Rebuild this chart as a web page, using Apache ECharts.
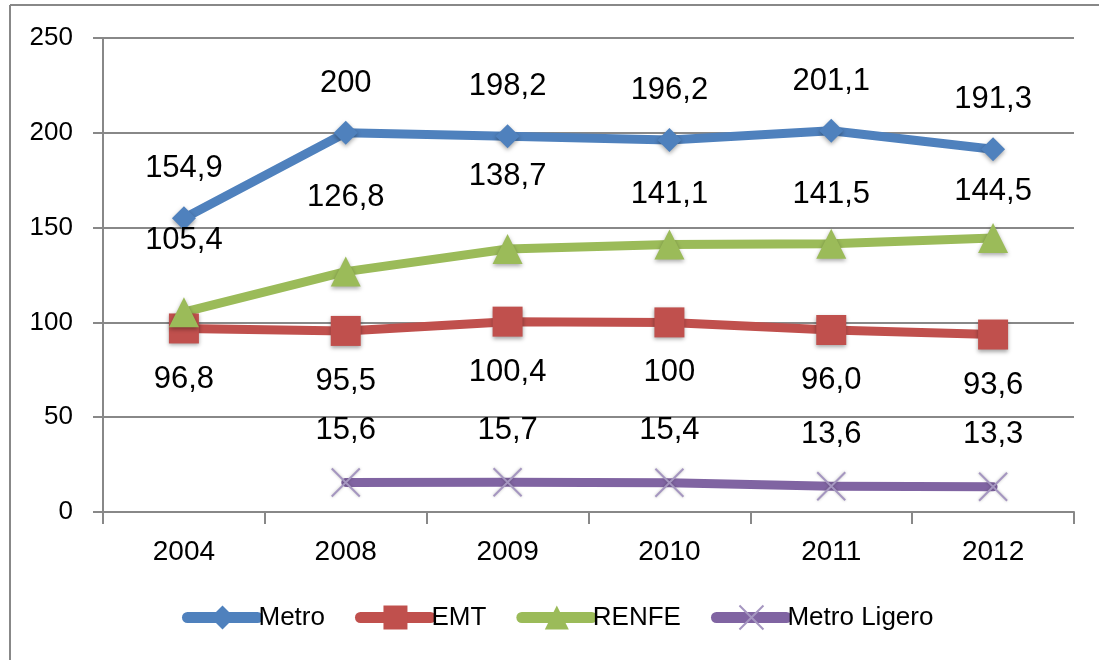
<!DOCTYPE html>
<html>
<head>
<meta charset="utf-8">
<script src="https://cdn.jsdelivr.net/npm/echarts@6/dist/echarts.min.js"></script>
<style>
  html, body { margin: 0; padding: 0; background: #fff; }
  #chart { width: 1099px; height: 660px; }
</style>
</head>
<body>
<div id="chart"></div>
<script>
// categorias (años)
const years = ['2004', '2008', '2009', '2010', '2011', '2012']
// series
const metro = [154.9, 200, 198.2, 196.2, 201.1, 191.3]
const emt = [96.8, 95.5, 100.4, 100, 96.0, 93.6]
const renfe = [105.4, 126.8, 138.7, 141.1, 141.5, 144.5]
const metroLigero = [null, 15.6, 15.7, 15.4, 13.6, 13.3]
// textos de etiquetas tal como aparecen
const metroText = ['154,9', '200', '198,2', '196,2', '201,1', '191,3']
const emtText = ['96,8', '95,5', '100,4', '100', '96,0', '93,6']
const renfeText = ['105,4', '126,8', '138,7', '141,1', '141,5', '144,5']
const ligeroText = ['', '15,6', '15,7', '15,4', '13,6', '13,3']
// eje y
const yTicks = [0, 50, 100, 150, 200, 250]

const font = '"Liberation Sans", Arial, sans-serif'
// separación de etiquetas de RENFE (se colocaron a mano en el original)
const renfeDist = [41, 44, 42, 20, 19, 16]

const chart = echarts.init(document.getElementById('chart'))

const labelBase = {
  show: true,
  color: '#000',
  fontFamily: font,
  fontSize: 31
}

function series (name, data, texts, color, symbol, size, pos, dist, extra) {
  return Object.assign({
    name: name,
    type: 'line',
    data: data.map(v => v === null ? '-' : v),
    symbol: symbol,
    symbolSize: size,
    lineStyle: { width: 9, color: color, cap: 'round', join: 'round' },
    itemStyle: {
      color: color,
      shadowBlur: 4,
      shadowColor: 'rgba(0,0,0,0.35)',
      shadowOffsetY: 2
    },
    label: Object.assign({}, labelBase, {
      position: pos,
      distance: dist,
      formatter: p => texts[p.dataIndex]
    }),
    emphasis: { disabled: true }
  }, extra || {})
}

const option = {
  backgroundColor: '#fff',
  animation: false,
  grid: { left: 103, right: 25, top: 38, bottom: 148 },
  xAxis: {
    type: 'category',
    data: years,
    boundaryGap: true,
    axisLine: { lineStyle: { color: '#888', width: 2 } },
    axisTick: { show: true, length: 12, lineStyle: { color: '#888', width: 2 } },
    axisLabel: { color: '#000', fontFamily: font, fontSize: 28, margin: 26 }
  },
  yAxis: {
    type: 'value',
    min: yTicks[0],
    max: yTicks[yTicks.length - 1],
    interval: 50,
    axisLine: { show: true, lineStyle: { color: '#888', width: 2 } },
    axisTick: { show: true, length: 10, lineStyle: { color: '#888', width: 2 } },
    splitLine: { lineStyle: { color: '#888', width: 2 } },
    axisLabel: { color: '#000', fontFamily: font, fontSize: 26, margin: 30 }
  },
  legend: {
    bottom: 23,
    left: 177,
    itemWidth: 70,
    itemHeight: 30,
    itemGap: 30,
    lineStyle: { width: 11, cap: 'round' },
    textStyle: { color: '#000', fontFamily: font, fontSize: 26, padding: [0, 0, 0, -4] },
    data: ['Metro', 'EMT', 'RENFE', 'Metro Ligero']
  },
  graphic: [
    { type: 'line', shape: { x1: 10, y1: 5, x2: 10, y2: 660 }, style: { stroke: '#888', lineWidth: 2 } },
    { type: 'line', shape: { x1: 10, y1: 5, x2: 1099, y2: 5 }, style: { stroke: '#888', lineWidth: 2 } }
  ],
  series: [
    series('Metro', metro, metroText, '#4F81BD', 'diamond', 24, 'top', 22),
    series('EMT', emt, emtText, '#C0504D', 'rect', 30, 'bottom', 20),
    series('RENFE', renfe, renfeText, '#9BBB59', 'triangle', 30, 'top', 20),
    series('Metro Ligero', metroLigero, ligeroText, '#8064A2',
      'path://M0,0L10,10M10,0L0,10', 28, 'top', 20, {
        itemStyle: {
          color: 'none',
          borderColor: '#a596c0',
          borderWidth: 2,
          shadowBlur: 3,
          shadowColor: 'rgba(0,0,0,0.25)'
        }
      })
  ]
}

// etiquetas de RENFE más separadas en los primeros puntos
option.series[2].data = renfe.map((v, i) => ({
  value: v,
  label: { distance: renfeDist[i] }
}))

chart.setOption(option)
</script>
</body>
</html>
